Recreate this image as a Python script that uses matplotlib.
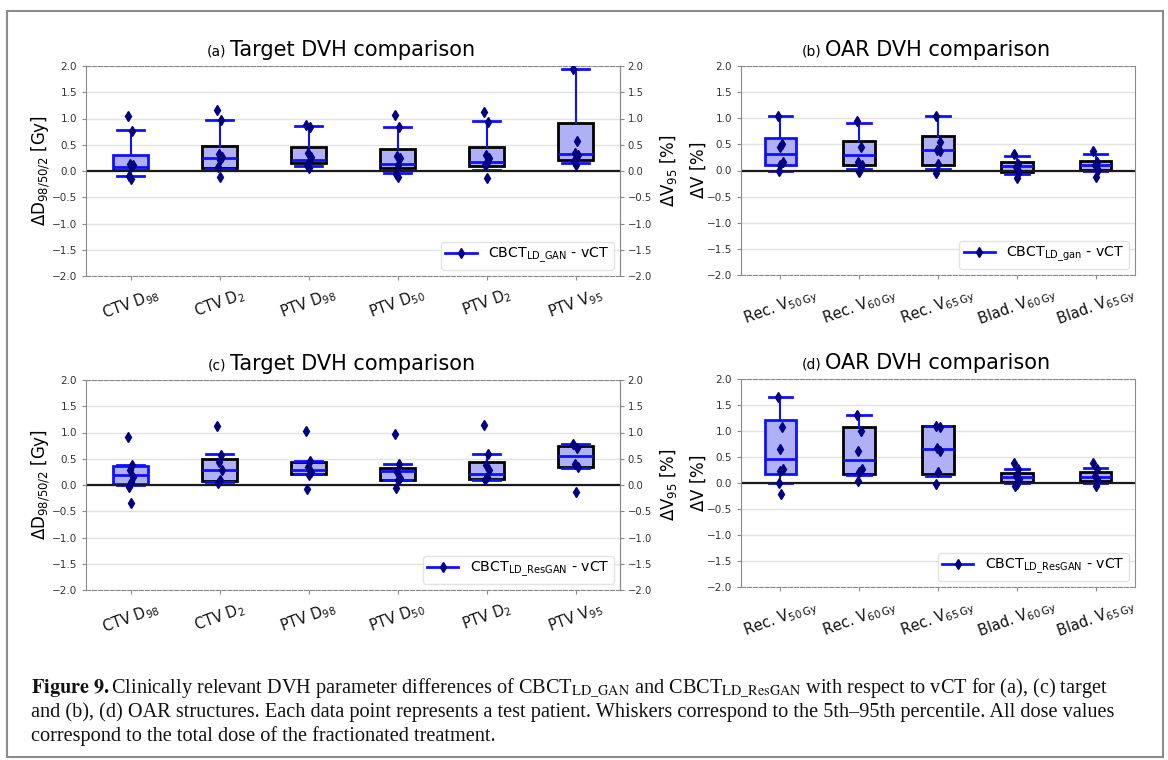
import numpy as np
import matplotlib
matplotlib.use('Agg')
import matplotlib.pyplot as plt
from matplotlib.lines import Line2D
from matplotlib.patches import Rectangle

plt.rcParams['font.family'] = ['DejaVu Sans']
plt.rcParams['mathtext.fontset'] = 'dejavusans'

# category labels
target_labels = [r'CTV D$_{98}$', r'CTV D$_{2}$', r'PTV D$_{98}$',
                 r'PTV D$_{50}$', r'PTV D$_{2}$', r'PTV V$_{95}$']
oar_labels = [r'Rec. V$_{50\,\mathrm{Gy}}$', r'Rec. V$_{60\,\mathrm{Gy}}$',
              r'Rec. V$_{65\,\mathrm{Gy}}$', r'Blad. V$_{60\,\mathrm{Gy}}$',
              r'Blad. V$_{65\,\mathrm{Gy}}$']

# (a) target, CBCT_LD_GAN
a_med = [0.08, 0.25, 0.21, 0.14, 0.18, 0.32]
a_q1 = [0.02, 0.05, 0.15, 0.05, 0.09, 0.21]
a_q3 = [0.30, 0.47, 0.46, 0.42, 0.45, 0.91]
a_lo = [-0.10, 0.03, 0.10, -0.03, 0.02, 0.16]
a_hi = [0.78, 0.97, 0.86, 0.83, 0.96, 1.94]
a_pts = [[1.05, 0.77, 0.14, 0.12, 0.10, -0.09, -0.15],
         [1.16, 0.97, 0.32, 0.27, 0.21, 0.08, -0.11],
         [0.87, 0.84, 0.34, 0.27, 0.18, 0.11, 0.06],
         [1.06, 0.83, 0.28, 0.24, 0.11, -0.06, -0.11],
         [1.12, 0.94, 0.30, 0.24, 0.15, 0.11, -0.14],
         [1.94, 0.58, 0.34, 0.30, 0.24, 0.20, 0.11]]

# (b) OAR, CBCT_LD_gan
b_med = [0.31, 0.30, 0.40, 0.08, 0.10]
b_q1 = [0.10, 0.10, 0.10, -0.02, 0.01]
b_q3 = [0.63, 0.56, 0.66, 0.17, 0.19]
b_lo = [0.00, 0.02, 0.03, -0.06, -0.01]
b_hi = [1.04, 0.91, 1.05, 0.27, 0.31]
b_pts = [[1.04, 0.50, 0.45, 0.16, 0.10, 0.00],
         [0.95, 0.45, 0.16, 0.10, -0.03],
         [1.05, 0.54, 0.40, 0.37, 0.13, -0.05],
         [0.32, 0.13, 0.06, -0.03, -0.15],
         [0.38, 0.16, 0.10, 0.01, -0.13]]

# (c) target, CBCT_LD_ResGAN
c_med = [0.19, 0.29, 0.29, 0.27, 0.21, 0.55]
c_q1 = [0.02, 0.08, 0.21, 0.10, 0.11, 0.35]
c_q3 = [0.36, 0.50, 0.43, 0.33, 0.44, 0.75]
c_lo = [0.00, 0.06, 0.21, 0.10, 0.10, 0.32]
c_hi = [0.38, 0.59, 0.46, 0.40, 0.60, 0.78]
c_pts = [[0.92, 0.38, 0.29, 0.16, 0.06, -0.03, -0.34],
         [1.13, 0.57, 0.44, 0.29, 0.10, 0.04],
         [1.02, 0.46, 0.35, 0.25, 0.19, -0.08],
         [0.97, 0.40, 0.25, 0.13, 0.10, -0.06],
         [1.14, 0.60, 0.38, 0.29, 0.16, 0.10],
         [0.78, 0.70, 0.40, 0.35, -0.14]]

# (d) OAR, CBCT_LD_ResGAN
d_med = [0.46, 0.44, 0.65, 0.11, 0.11]
d_q1 = [0.17, 0.17, 0.17, 0.01, 0.03]
d_q3 = [1.22, 1.07, 1.10, 0.19, 0.21]
d_lo = [0.00, 0.15, 0.14, 0.00, 0.00]
d_hi = [1.65, 1.31, 1.10, 0.27, 0.28]
d_pts = [[1.65, 1.07, 0.65, 0.27, 0.24, 0.00, -0.21],
         [1.31, 1.00, 0.62, 0.27, 0.22, 0.03],
         [1.10, 1.07, 0.67, 0.62, 0.21, -0.02],
         [0.38, 0.27, 0.14, 0.08, -0.02, -0.06],
         [0.38, 0.27, 0.14, 0.04, -0.05]]

blue = '#1010ff'
navy = '#000080'
fill = '#b0b0f6'
spine_col = '#8a8a8a'
jitter = [-0.03, 0.02, -0.01, 0.03, 0.0, -0.02, 0.01]


def draw_panel(ax, labels, med, q1, q3, lo, hi, pts, letter, title, ylabel,
               ylabel_x, leg_label, right_label=None):
    stats = [dict(med=m, q1=a, q3=b, whislo=l, whishi=h, fliers=[])
             for m, a, b, l, h in zip(med, q1, q3, lo, hi)]
    pos = np.arange(len(labels))
    bp = ax.bxp(stats, positions=pos, widths=0.4, capwidths=0.3,
                patch_artist=True, showfliers=False,
                boxprops=dict(facecolor=fill, edgecolor='black', linewidth=2),
                medianprops=dict(color=blue, linewidth=2),
                whiskerprops=dict(color=blue, linewidth=1.5),
                capprops=dict(color=blue, linewidth=2))
    bp['boxes'][0].set_edgecolor(blue)
    for i, vals in enumerate(pts):
        xs = [pos[i] + jitter[k % len(jitter)] for k in range(len(vals))]
        ax.plot(xs, vals, ls='none', marker='d', ms=5.5, color=navy, zorder=5)

    ax.axhline(0, color='#1a1a1a', lw=1.6, zorder=2)
    ax.set_xlim(-0.5, len(labels) - 0.5)
    ax.set_ylim(-2, 2)
    ax.set_yticks(np.arange(-2, 2.01, 0.5))
    ax.grid(axis='y', color='#e2e2e2', lw=1)
    ax.set_axisbelow(True)
    for s in ['top', 'bottom']:
        ax.spines[s].set_linestyle('--')
        ax.spines[s].set_color(spine_col)
    for s in ['left', 'right']:
        ax.spines[s].set_color(spine_col)
    ax.set_xticks(pos)
    ax.set_xticklabels(labels, rotation=20, fontsize=10.5, color='#111')
    ax.tick_params(axis='y', labelsize=7.5, labelcolor='#333', color=spine_col, length=3)
    ax.tick_params(axis='x', color=spine_col, length=3)
    ax.set_ylabel(ylabel, fontsize=12)
    ax.yaxis.set_label_coords(ylabel_x, 0.5)

    t = ax.set_title(title, fontsize=15, pad=7)
    ax.annotate(letter, xy=(0, 0), xycoords=t, xytext=(-3, 1),
                textcoords='offset points', ha='right', va='bottom', fontsize=10)

    handle = Line2D([], [], color=blue, lw=2, marker='d', ms=5.5,
                    mfc=navy, mec=navy)
    ax.legend(handles=[handle], labels=[leg_label], loc='lower right',
              fontsize=10.2, handlelength=2.2, borderpad=0.3,
              borderaxespad=0.45, edgecolor='#dddddd')

    if right_label is not None:
        ax2 = ax.twinx()
        ax2.set_ylim(-2, 2)
        ax2.set_yticks(np.arange(-2, 2.01, 0.5))
        ax2.tick_params(axis='y', labelsize=7.2, labelcolor='#333', color=spine_col,
                        length=3, pad=2.5)
        for s in ['top', 'bottom', 'left']:
            ax2.spines[s].set_visible(False)
        ax2.spines['right'].set_color(spine_col)
        ax2.set_ylabel(right_label, fontsize=12)
        ax2.yaxis.set_label_coords(1.071, 0.5)


fig = plt.figure(figsize=(11.68, 7.6), dpi=100)
W, H = 1168, 760


def add_axes(x0, x1, y0, y1):
    return fig.add_axes([x0 / W, 1 - y1 / H, (x1 - x0) / W, (y1 - y0) / H])


ax_a = add_axes(86, 620, 66, 276)
ax_b = add_axes(741, 1135, 66, 275)
ax_c = add_axes(86, 620, 380, 590)
ax_d = add_axes(741, 1135, 379, 587)

ylab_t = r'$\Delta$D$_{98/50/2}$ [Gy]'
ylab_r = r'$\Delta$V$_{95}$ [%]'
ylab_o = r'$\Delta$V [%]'

draw_panel(ax_a, target_labels, a_med, a_q1, a_q3, a_lo, a_hi, a_pts,
           '(a)', 'Target DVH comparison', ylab_t, -0.064,
           r'CBCT$_{\mathrm{LD\_GAN}}$ - vCT', ylab_r)
draw_panel(ax_b, oar_labels, b_med, b_q1, b_q3, b_lo, b_hi, b_pts,
           '(b)', 'OAR DVH comparison', ylab_o, -0.084,
           r'CBCT$_{\mathrm{LD\_gan}}$ - vCT')
draw_panel(ax_c, target_labels, c_med, c_q1, c_q3, c_lo, c_hi, c_pts,
           '(c)', 'Target DVH comparison', ylab_t, -0.064,
           r'CBCT$_{\mathrm{LD\_ResGAN}}$ - vCT', ylab_r)
draw_panel(ax_d, oar_labels, d_med, d_q1, d_q3, d_lo, d_hi, d_pts,
           '(d)', 'OAR DVH comparison', ylab_o, -0.084,
           r'CBCT$_{\mathrm{LD\_ResGAN}}$ - vCT')

# outer frame
fig.patches.append(Rectangle((7 / W, 1 - 757 / H), (1163 - 7) / W, (757 - 11) / H,
                             transform=fig.transFigure, fill=False,
                             edgecolor='#8c8c8c', lw=1.5))

caption = [
    r'$\mathbf{Figure\ 9.}$Clinically relevant DVH parameter differences of CBCT$_{\mathrm{LD\_GAN}}$ '
    r'and CBCT$_{\mathrm{LD\_ResGAN}}$ with respect to vCT for (a), (c) target',
    'and (b), (d) OAR structures. Each data point represents a test patient. Whiskers correspond '
    'to the 5th\u201395th percentile. All dose values',
    'correspond to the total dose of the fractionated treatment.',
]
for i, line in enumerate(caption):
    fig.text(31 / W, 1 - (693 + 24 * i) / H, line, fontsize=14.6,
             family='Liberation Serif', math_fontfamily='stix',
             ha='left', va='baseline', color='#111')

fig.savefig('out.png', dpi=100)
